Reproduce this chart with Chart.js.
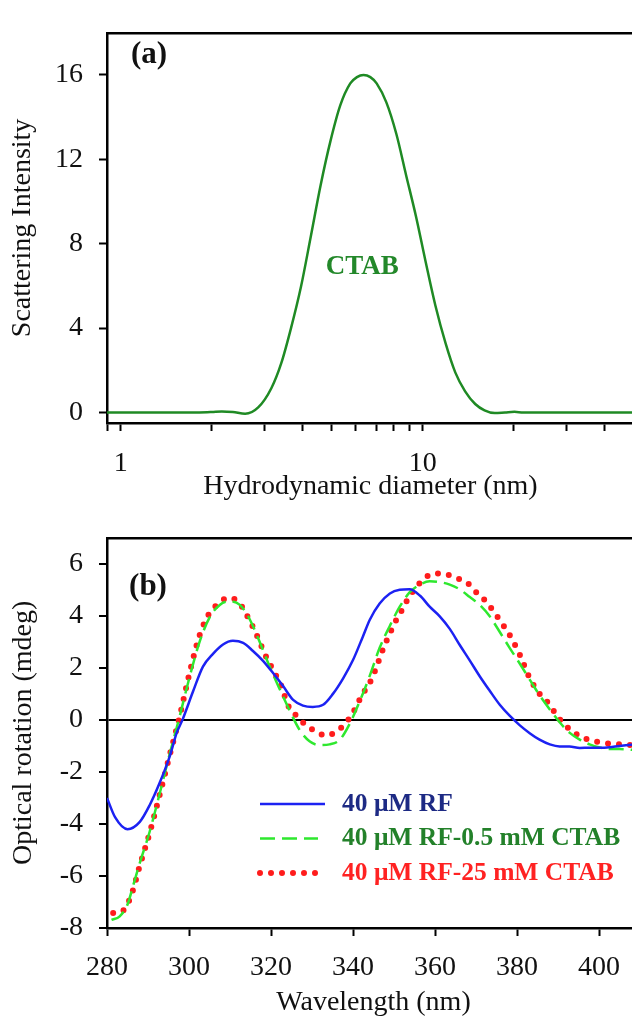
<!DOCTYPE html>
<html lang="en">
<head>
<meta charset="UTF-8">
<title>DLS and optical rotation of RF with CTAB</title>
<script src="https://cdn.jsdelivr.net/npm/chart.js"></script>
<style>
    body {
        margin: 0;
        background: #fff;
        overflow: hidden;
        width: 632px;
        height: 1019px;
    }
    canvas {
        position: absolute;
        left: 0;
    }
    #chartA { top: 0; }
    #chartB { top: 505px; }
</style>
</head>
<body>
<canvas id="chartA" width="650" height="505"></canvas>
<canvas id="chartB" width="650" height="514"></canvas>

<script>
// (a) size distribution of CTAB micelles
const diameters = [0.9, 1.2, 1.5, 1.82, 2.0, 2.16, 2.35, 2.58, 2.85, 3.15, 3.40, 3.66, 3.95, 4.26, 4.59,
    4.95, 5.33, 5.75, 6.05, 6.36, 6.7, 7.03, 7.57, 8.17, 8.80, 9.49, 10.2, 11.0, 11.9, 12.8, 13.8,
    14.9, 16.0, 17.3, 18.7, 20.1, 21.5, 23.4, 30, 40, 50];
const intensity = [0, 0, 0, 0, 0.02, 0.05, 0.02, -0.06, 0.24, 1.15, 2.35, 4.0, 5.97, 8.38, 10.8,
    12.9, 14.57, 15.6, 15.9, 16.0, 15.9, 15.6, 14.7, 13.2, 11.25, 9.29, 7.18, 5.07, 3.26, 1.9, 1.0,
    0.4, 0.1, -0.03, 0.0, 0.03, 0, 0, 0, 0, 0];
const diameterTicks = [0.9, 1, 2, 3, 4, 5, 6, 7, 8, 9, 10, 20, 30, 40, 50];
const diameterLabels = [1, 10];

// (b) optical rotation spectra
const wlRF = [280, 282, 285, 288, 290.4, 292.9, 295.3, 297, 298.4, 301, 303.4, 305.9, 308.3, 310.7,
    313.2, 315.6, 318, 320.5, 322.9, 325.4, 327.8, 330.2, 332.7, 335.1, 337.6, 340, 342.4, 344.1,
    346.5, 349, 351.4, 353.8, 356.3, 358.7, 361.1, 363.6, 366, 368.5, 370.9, 373.3, 375.8, 378.2,
    380.7, 383.1, 385.5, 388, 390.4, 392.8, 395.3, 397.7, 400.2, 402.6, 405, 408, 410];
const rotRF = [-3.0, -3.75, -4.2, -3.92, -3.28, -2.4, -1.4, -0.5, 0.0, 1.1, 2.05, 2.55, 2.9, 3.04,
    2.96, 2.65, 2.28, 1.8, 1.31, 0.77, 0.55, 0.5, 0.58, 1.0, 1.6, 2.3, 3.2, 3.85,
    4.47, 4.86, 5.0, 5.02, 4.78, 4.35, 3.99, 3.5, 2.89, 2.28, 1.68, 1.13, 0.58, 0.16,
    -0.21, -0.51, -0.76, -0.94, -1.02, -1.02, -1.08, -1.07, -1.07, -1.05, -1.0, -0.96, -0.95];

const wlCtab05 = [281.1, 283.1, 285, 286.5, 288, 290.4, 292.9, 295.3, 297.5, 300.2, 302.6, 305,
    307.5, 309.9, 312.4, 314.8, 317.2, 319.7, 322.1, 324.6, 327, 329.4, 331.9, 334.3, 336.8, 339.2,
    341.6, 344.1, 346.5, 349, 351.4, 353.8, 356.3, 358.7, 361.1, 363.6, 366, 368.5, 370.9, 373.3,
    375.8, 378.2, 380.7, 383.1, 385.5, 388, 390.4, 392.8, 395.3, 397.7, 400.2, 402.6, 405, 408, 410];
const rotCtab05 = [-7.69, -7.55, -7.1, -6.3, -5.5, -4.3, -2.8, -1.3, 0.0, 1.68, 3.01, 3.93,
    4.42, 4.56, 4.42, 3.87, 3.01, 2.04, 1.19, 0.34, -0.39, -0.82, -0.97, -0.94, -0.76, -0.15,
    0.7, 1.7, 2.77, 3.62, 4.35, 4.9, 5.2, 5.33, 5.3, 5.2, 5.02, 4.72, 4.42, 3.99,
    3.38, 2.77, 2.16, 1.55, 0.95, 0.4, -0.09, -0.49, -0.76, -0.94, -1.06, -1.12, -1.12, -1.15, -1.2];

const wlCtab25 = [281.5, 283.9, 286, 288, 290.4, 292.9, 295.3, 297.6, 300.2, 302.6, 305, 307.1,
    309.5, 312, 315.2, 316.4, 318.5, 321.3, 322.5, 324.1, 326.2, 328.6, 331.1, 333.5, 336, 338.4,
    340.2, 341.6, 342.9, 344.5, 346.3, 347.3, 349.5, 350.7, 352.2, 353.4, 355.3, 357.5, 359.9,
    362.6, 365.2, 367.9, 370.1, 372.5, 374.3, 376.2, 378, 380.7, 383.1, 385.5, 388, 389.6, 391.6,
    394.1, 396.8, 399.4, 402, 404.6, 407.2, 410];
const rotCtab25 = [-7.42, -7.33, -6.7, -5.6, -4.35, -2.85, -1.35, 0.05, 1.85, 3.26, 4.11, 4.45,
    4.69, 4.54, 3.69, 3.3, 2.53, 1.68, 1.31, 0.58, 0.16, -0.21, -0.45, -0.61, -0.43, -0.09,
    0.34, 0.77, 1.13, 1.55, 2.28, 2.71, 3.5, 3.89, 4.29, 4.66, 5.08, 5.45, 5.63,
    5.6, 5.45, 5.27, 4.9, 4.54, 4.17, 3.74, 3.32, 2.5, 1.6, 1.0, 0.58, 0.19, -0.18,
    -0.51, -0.73, -0.84, -0.9, -0.93, -0.96, -0.98];

const seriesNames = ['40 \u03bcM RF', '40 \u03bcM RF-0.5 mM CTAB', '40 \u03bcM RF-25 mM CTAB'];

const SERIF = "'Liberation Serif', 'Times New Roman', serif";
const tickFont = { family: SERIF, size: 28 };
const titleFont = { family: SERIF, size: 28 };

const toPoints = (xs, ys) => xs.map((x, i) => ({ x: x, y: ys[i] }));

// black frame line on top of the plot area
const topFrame = {
    type: 'linear',
    position: 'top',
    display: true,
    grid: { display: false },
    ticks: { display: false },
    border: { display: true, color: '#000', width: 2.5 },
    afterFit: s => { s.height = 0; }
};

// annotations: panel letters, curve label, legend
const panelText = {
    id: 'panelText',
    afterDraw(chart, args, opts) {
        const ctx = chart.ctx;
        const area = chart.chartArea;
        ctx.save();
        ctx.textBaseline = 'middle';
        ctx.fillStyle = '#111';
        ctx.font = "bold 31px " + SERIF;
        ctx.textAlign = 'center';
        ctx.fillText(opts.letter, area.left + opts.letterDx, area.top + opts.letterDy);

        if (opts.label) {
            const xs = chart.scales.x, ys = chart.scales.y;
            ctx.font = "bold 27px " + SERIF;
            ctx.fillStyle = '#23882a';
            ctx.fillText(opts.label.text, xs.getPixelForValue(opts.label.x), ys.getPixelForValue(opts.label.y));
        }

        if (opts.legend) {
            const lg = opts.legend;
            chart.data.datasets.forEach((ds, i) => {
                const y = lg.y + i * lg.step;
                ctx.save();
                ctx.strokeStyle = ds.borderColor;
                ctx.lineWidth = ds.borderWidth;
                ctx.lineCap = ds.borderCapStyle || 'butt';
                ctx.setLineDash(ds.borderDash || []);
                ctx.beginPath();
                ctx.moveTo(lg.x, y);
                ctx.lineTo(lg.x + lg.lineLen[i], y);
                ctx.stroke();
                ctx.restore();
                ctx.font = "bold 25.5px " + SERIF;
                ctx.textAlign = 'left';
                ctx.fillStyle = lg.textColors[i];
                ctx.fillText(ds.label, lg.x + lg.textDx, y);
            });
        }
        ctx.restore();
    }
};

new Chart(document.getElementById('chartA'), {
    type: 'line',
    data: {
        datasets: [{
            label: 'CTAB',
            data: toPoints(diameters, intensity),
            borderColor: '#1f8a24',
            borderWidth: 2.5,
            pointRadius: 0,
            cubicInterpolationMode: 'monotone'
        }]
    },
    options: {
        responsive: false,
        animation: false,
        devicePixelRatio: 1,
        layout: { padding: { top: 14, right: 9, left: 0, bottom: 0 } },
        plugins: {
            legend: { display: false },
            tooltip: { enabled: false },
            panelText: {
                letter: '(a)', letterDx: 42, letterDy: 22,
                label: { text: 'CTAB', x: 6.3, y: 6.9 }
            }
        },
        scales: {
            x: {
                type: 'logarithmic',
                min: 0.9,
                max: 50,
                afterBuildTicks: s => { s.ticks = diameterTicks.map(v => ({ value: v })); },
                afterFit: s => { s.height = 82; },
                ticks: {
                    autoSkip: false,
                    maxRotation: 0,
                    padding: 16,
                    color: '#111',
                    font: tickFont,
                    callback: v => diameterLabels.includes(v) ? String(v) : ''
                },
                grid: { drawOnChartArea: false, tickLength: 8, tickColor: '#000', tickWidth: 2 },
                border: { color: '#000', width: 2.5 },
                title: {
                    display: true,
                    text: 'Hydrodynamic diameter (nm)',
                    color: '#111',
                    font: titleFont,
                    padding: { top: 0, bottom: 2 }
                }
            },
            xTop: topFrame,
            y: {
                min: -0.5,
                max: 18,
                afterFit: s => { s.width = 107; },
                ticks: { stepSize: 4, includeBounds: false, padding: 16, color: '#111', font: tickFont },
                grid: { drawOnChartArea: false, tickLength: 8, tickColor: '#000', tickWidth: 2 },
                border: { color: '#000', width: 2.5 },
                title: {
                    display: true,
                    text: 'Scattering Intensity',
                    color: '#111',
                    font: titleFont,
                    padding: { top: 6, bottom: 0 }
                }
            }
        }
    },
    plugins: [panelText]
});

new Chart(document.getElementById('chartB'), {
    type: 'line',
    data: {
        datasets: [{
            label: seriesNames[0],
            data: toPoints(wlRF, rotRF),
            borderColor: '#1c22f2',
            borderWidth: 2.5,
            pointRadius: 0,
            cubicInterpolationMode: 'monotone'
        }, {
            label: seriesNames[1],
            data: toPoints(wlCtab05, rotCtab05),
            borderColor: '#2ee82e',
            borderWidth: 2.5,
            borderDash: [15, 7],
            pointRadius: 0,
            cubicInterpolationMode: 'monotone'
        }, {
            label: seriesNames[2],
            data: toPoints(wlCtab25, rotCtab25),
            borderColor: '#ff1c1c',
            borderWidth: 6,
            borderDash: [0, 11],
            borderCapStyle: 'round',
            pointRadius: 0,
            cubicInterpolationMode: 'monotone'
        }]
    },
    options: {
        responsive: false,
        animation: false,
        devicePixelRatio: 1,
        layout: { padding: { top: 13, right: 10, left: 0, bottom: 0 } },
        plugins: {
            legend: { display: false },
            tooltip: { enabled: false },
            panelText: {
                letter: '(b)', letterDx: 41, letterDy: 49,
                legend: {
                    x: 260, y: 299, step: 34.5, lineLen: [65, 58, 58], textDx: 82,
                    textColors: ['#1d2a84', '#23812a', '#ff2222']
                }
            }
        },
        scales: {
            x: {
                type: 'linear',
                min: 280,
                max: 410,
                afterFit: s => { s.height = 91; },
                ticks: {
                    stepSize: 20,
                    includeBounds: false,
                    maxRotation: 0,
                    padding: 15,
                    color: '#111',
                    font: tickFont
                },
                grid: { drawOnChartArea: false, tickLength: 8, tickColor: '#000', tickWidth: 2 },
                border: { color: '#000', width: 2.5 },
                title: {
                    display: true,
                    text: 'Wavelength (nm)',
                    color: '#111',
                    font: titleFont,
                    padding: { top: 0, bottom: 0 }
                }
            },
            xTop: topFrame,
            y: {
                min: -8,
                max: 7,
                afterFit: s => { s.width = 107; },
                ticks: { stepSize: 2, includeBounds: false, padding: 16, color: '#111', font: tickFont },
                grid: {
                    // only the zero line crosses the plot
                    color: c => c.tick && c.tick.value === 0 ? '#000' : 'rgba(0,0,0,0)',
                    lineWidth: 2,
                    tickLength: 8,
                    tickColor: '#000',
                    tickWidth: 2
                },
                border: { color: '#000', width: 2.5 },
                title: {
                    display: true,
                    text: 'Optical rotation (mdeg)',
                    color: '#111',
                    font: titleFont,
                    padding: { top: 7, bottom: 0 }
                }
            }
        }
    },
    plugins: [panelText]
});
</script>
</body>
</html>
